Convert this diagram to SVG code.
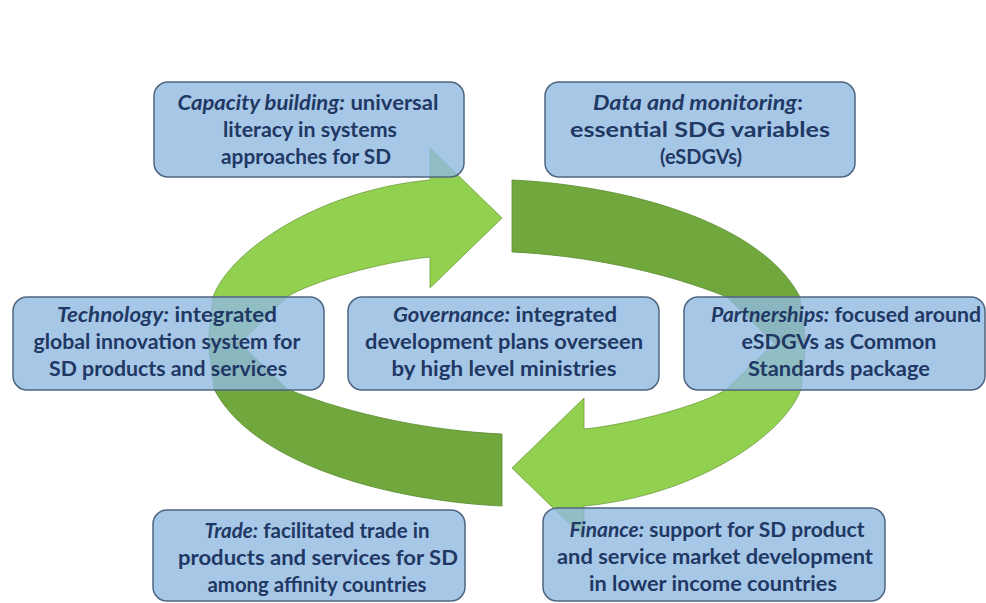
<svg xmlns="http://www.w3.org/2000/svg" width="986" height="603" viewBox="0 0 986 603">
<style>
.box{fill:rgb(145,185,225);fill-opacity:0.8;stroke:#4f6680;stroke-width:1.5}
.t{font-family:Lato,"Open Sans","Liberation Sans",sans-serif;font-size:21.5px;font-weight:bold;fill:#1f3864;text-anchor:middle}
.i{font-style:italic}
.light{fill:#92d050;stroke:#6f9c3e;stroke-width:0.8}
.dark{fill:#71a83e;stroke:#5a8a30;stroke-width:0.8}
</style>
<rect width="986" height="603" fill="#ffffff"/>
<g id="connectors">
<defs>
<path id="lightArrow" d="M 208,343 L 213,297 C 230,250 320,190 430,180 L 430,148 L 502,218 L 430,288 L 430,257 C 380,262 310,282 287,297 L 240,343 Z"/>
<path id="darkArrow" d="M 512,180 C 620,185 760,220 800,297 L 806,343 L 774,343 L 727,297 C 660,270 580,255 512,252 Z"/>
</defs>
<use href="#lightArrow" class="light"/>
<use href="#darkArrow" class="dark"/>
<use href="#lightArrow" class="light" transform="rotate(180 507 343)"/>
<use href="#darkArrow" class="dark" transform="rotate(180 507 343)"/>
</g>
<g id="capacity">
<rect class="box" x="154" y="82" width="310" height="95" rx="14"/>
<text class="t" x="308" y="110" textLength="261" lengthAdjust="spacingAndGlyphs"><tspan class="i">Capacity building:</tspan> universal</text>
<text class="t" x="310" y="137" textLength="174" lengthAdjust="spacingAndGlyphs">literacy in systems</text>
<text class="t" x="306" y="164" textLength="170" lengthAdjust="spacingAndGlyphs">approaches for SD</text>
</g>
<g id="data">
<rect class="box" x="545" y="82" width="310" height="95" rx="14"/>
<text class="t" x="698" y="110" textLength="210" lengthAdjust="spacingAndGlyphs"><tspan class="i">Data and monitoring</tspan>:</text>
<text class="t" x="700" y="137" textLength="260" lengthAdjust="spacingAndGlyphs">essential SDG variables</text>
<text class="t" x="701" y="164" textLength="82" lengthAdjust="spacingAndGlyphs">(eSDGVs)</text>
</g>
<g id="technology">
<rect class="box" x="13" y="297" width="311" height="93" rx="14"/>
<text class="t" x="167" y="322" textLength="220" lengthAdjust="spacingAndGlyphs"><tspan class="i">Technology:</tspan> integrated</text>
<text class="t" x="167" y="349" textLength="267" lengthAdjust="spacingAndGlyphs">global innovation system for</text>
<text class="t" x="168" y="376" textLength="238" lengthAdjust="spacingAndGlyphs">SD products and services</text>
</g>
<g id="governance">
<rect class="box" x="348" y="297" width="311" height="93" rx="14"/>
<text class="t" x="505" y="322" textLength="224" lengthAdjust="spacingAndGlyphs"><tspan class="i">Governance:</tspan> integrated</text>
<text class="t" x="504" y="349" textLength="278" lengthAdjust="spacingAndGlyphs">development plans overseen</text>
<text class="t" x="504" y="376" textLength="225" lengthAdjust="spacingAndGlyphs">by high level ministries</text>
</g>
<g id="partnerships">
<rect class="box" x="684" y="297" width="301" height="93" rx="14"/>
<text class="t" x="846" y="322" textLength="270" lengthAdjust="spacingAndGlyphs"><tspan class="i">Partnerships:</tspan> focused around</text>
<text class="t" x="839" y="349" textLength="195" lengthAdjust="spacingAndGlyphs">eSDGVs as Common</text>
<text class="t" x="839" y="376" textLength="182" lengthAdjust="spacingAndGlyphs">Standards package</text>
</g>
<g id="trade">
<rect class="box" x="153" y="510" width="312" height="91" rx="14"/>
<text class="t" x="317" y="538" textLength="225" lengthAdjust="spacingAndGlyphs"><tspan class="i">Trade:</tspan> facilitated trade in</text>
<text class="t" x="318" y="565" textLength="280" lengthAdjust="spacingAndGlyphs">products and services for SD</text>
<text class="t" x="317" y="592" textLength="219" lengthAdjust="spacingAndGlyphs">among affinity countries</text>
</g>
<g id="finance">
<rect class="box" x="543" y="508" width="342" height="93" rx="14"/>
<text class="t" x="717" y="537" textLength="295" lengthAdjust="spacingAndGlyphs"><tspan class="i">Finance:</tspan> support for SD product</text>
<text class="t" x="715" y="564" textLength="316" lengthAdjust="spacingAndGlyphs">and service market development</text>
<text class="t" x="713" y="591" textLength="248" lengthAdjust="spacingAndGlyphs">in lower income countries</text>
</g>
</svg>
